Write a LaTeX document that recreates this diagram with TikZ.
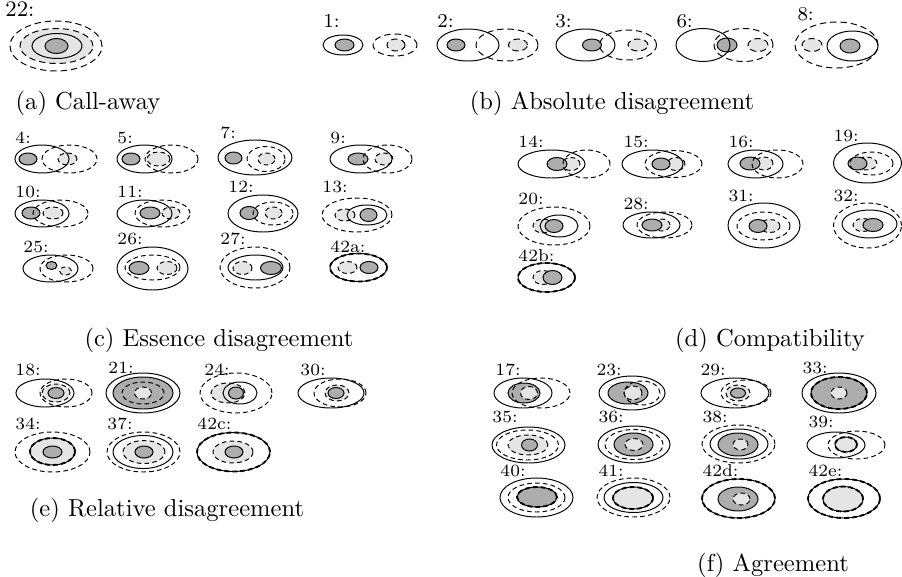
\documentclass[tikz,border=0pt]{standalone}
\definecolor{darkin}{gray}{0.68}
\definecolor{lightin}{gray}{0.9}
\begin{document}
\begin{tikzpicture}[x=0.407pt,y=0.407pt]
\tikzstyle{every node}+=[inner sep=0pt]
\tikzstyle{solidline}=[draw=black]
\tikzstyle{dashline}=[draw=black,dash pattern=on 1.9pt off 1.3pt]
\tikzstyle{darkfill}=[draw=black,fill=darkin]
\tikzstyle{lightfill}=[draw=black,dash pattern=on 1.9pt off 1.3pt,fill=lightin]
\tikzstyle{mixline}=[draw=black,postaction={draw=black,line width=0.75pt,dash pattern=on 1.9pt off 1.3pt}]
\tikzstyle{longdash}=[draw=black,dash pattern=on 2.6pt off 1.6pt]
\tikzstyle{tag}=[anchor=south west,font=\scriptsize]
\tikzstyle{bigtag}=[anchor=south west,font=\footnotesize]
\useasboundingbox (0,0) rectangle (902,-577);
\draw[lightfill,longdash] (56.5,-46) ellipse (36.5 and 17.5);
\draw[darkfill] (56.5,-46) ellipse (11.5 and 7.5);
\draw[longdash] (56,-46) ellipse (46 and 25);
\draw[solidline] (57,-46) ellipse (25 and 12.5);
\node[bigtag,font=\small] (l22) at (5,-17) {22:};
\draw[lightfill,longdash] (396,-45) ellipse (9 and 6);
\draw[darkfill] (344.5,-45) ellipse (9.5 and 6);
\draw[solidline] (343,-45) ellipse (20 and 10);
\draw[longdash] (395,-45) ellipse (22 and 11);
\node[bigtag] (l1) at (323,-28) {1:};
\draw[lightfill,longdash] (518,-45) ellipse (9.5 and 6);
\draw[darkfill] (456,-45) ellipse (9 and 6);
\draw[solidline] (468,-45) ellipse (31 and 16);
\draw[longdash] (507,-45) ellipse (31 and 16);
\node[bigtag] (l2) at (437,-28) {2:};
\draw[lightfill,longdash] (638,-45) ellipse (10 and 6);
\draw[darkfill] (592,-45) ellipse (9.5 and 6);
\draw[solidline] (585.5,-45) ellipse (29.5 and 16);
\draw[longdash] (628,-45) ellipse (28.5 and 15);
\node[bigtag] (l3) at (555,-28) {3:};
\draw[lightfill,longdash] (758,-45) ellipse (10 and 6.5);
\draw[darkfill] (727,-45) ellipse (10 and 7);
\draw[solidline] (703,-45) ellipse (27 and 16.5);
\draw[longdash] (743.5,-45) ellipse (29.5 and 16.5);
\node[bigtag] (l6) at (676,-28) {6:};
\draw[lightfill,longdash] (812,-45) ellipse (10 and 6.5);
\draw[darkfill] (850,-46) ellipse (10 and 7);
\draw[solidline] (852.5,-46) ellipse (25.5 and 15);
\draw[longdash] (836.5,-45) ellipse (41.5 and 23);
\node[bigtag] (l8) at (797,-21) {8:};
\node (capa) at (88,-103) {(a) Call-away};
\node (capb) at (612,-103) {(b) Absolute disagreement};
\draw[lightfill] (67.5,-159) ellipse (9.5 and 6);
\draw[darkfill] (28,-159) ellipse (9 and 6);
\draw[solidline] (42,-159) ellipse (27 and 14);
\draw[dashline] (69.5,-159) ellipse (27.5 and 14);
\node[tag] (l4) at (15,-144) {4:};
\draw[lightfill] (158.5,-159) ellipse (11.5 and 7);
\draw[darkfill] (131,-159) ellipse (9 and 6);
\draw[solidline] (144.5,-159) ellipse (27.5 and 14);
\draw[dashline] (171.5,-159) ellipse (26.5 and 14);
\node[tag] (l5) at (117,-144) {5:};
\draw[lightfill] (266.5,-159) ellipse (8.5 and 6);
\draw[darkfill] (233.5,-158) ellipse (8.5 and 6);
\draw[solidline] (255,-157.5) ellipse (37 and 17.5);
\draw[dashline] (266,-159) ellipse (19 and 12.5);
\node[tag] (l7) at (220,-139) {7:};
\draw[lightfill] (384,-159) ellipse (9 and 6);
\draw[darkfill] (358,-159) ellipse (10 and 6);
\draw[solidline] (361,-159) ellipse (31 and 14);
\draw[dashline] (387.5,-159) ellipse (24.5 and 14);
\node[tag] (l9) at (330,-144) {9:};
\draw[lightfill] (53,-213) ellipse (10 and 6);
\draw[darkfill] (31,-213) ellipse (9 and 6);
\draw[solidline] (42,-213.5) ellipse (27 and 13.5);
\draw[dashline] (60.5,-213.5) ellipse (27.5 and 13.5);
\node[tag] (l10) at (15,-198) {10:};
\draw[lightfill] (171,-213) ellipse (9 and 6);
\draw[darkfill] (150,-213) ellipse (10 and 6);
\draw[solidline] (144.5,-213.5) ellipse (27.5 and 13.5);
\draw[dashline] (162.5,-213.5) ellipse (27.5 and 13.5);
\node[tag] (l11) at (117,-198) {11:};
\draw[lightfill] (273.5,-213) ellipse (8.5 and 6);
\draw[darkfill] (249,-213) ellipse (9 and 6.5);
\draw[solidline] (263,-213.5) ellipse (35 and 18.5);
\draw[dashline] (273,-213.5) ellipse (20 and 11.5);
\node[tag] (l12) at (228,-193) {12:};
\draw[lightfill] (345,-215) ellipse (10 and 6);
\draw[darkfill] (368.5,-215) ellipse (8.5 and 6.5);
\draw[dashline] (357,-215) ellipse (35 and 17);
\draw[solidline] (367,-215) ellipse (20 and 10);
\node[tag] (l13) at (322,-193) {13:};
\draw[lightfill] (65.5,-271) ellipse (6 and 4);
\draw[darkfill] (51.5,-265.5) ellipse (5.5 and 4);
\draw[solidline] (50.5,-268.5) ellipse (27.5 and 13.5);
\draw[dashline] (66.5,-268.5) ellipse (26.5 and 13.5);
\node[tag] (l25) at (23,-253) {25:};
\draw[lightfill] (167,-268) ellipse (10 and 6.5);
\draw[darkfill] (139,-268) ellipse (10 and 6.5);
\draw[solidline] (152.5,-268.5) ellipse (35.5 and 21.5);
\draw[dashline] (152.5,-267.5) ellipse (27.5 and 12.5);
\node[tag] (l26) at (117,-245) {26:};
\draw[lightfill] (242.5,-268) ellipse (9.5 and 6.5);
\draw[darkfill] (271,-268) ellipse (10.5 and 6.5);
\draw[dashline] (255,-267.5) ellipse (35 and 20.5);
\draw[solidline] (255.5,-267.5) ellipse (27.5 and 12.5);
\node[tag] (l27) at (220,-245) {27:};
\draw[lightfill] (347.5,-267.5) ellipse (9.5 and 6);
\draw[darkfill] (369,-267.5) ellipse (9 and 6);
\draw[mixline] (358.5,-267.5) ellipse (28.5 and 14);
\node[tag] (l42a) at (330,-253) {42a:};
\node (capc) at (219,-340) {(c) Essence disagreement};
\draw[lightfill] (571,-164) ellipse (9 and 6.5);
\draw[darkfill] (557,-164) ellipse (10 and 6.5);
\draw[solidline] (551.5,-164) ellipse (33.5 and 14);
\draw[dashline] (586.5,-164) ellipse (23.5 and 14);
\node[tag] (l14) at (518,-148) {14:};
\draw[lightfill] (676,-164) ellipse (9 and 6.5);
\draw[darkfill] (661,-164) ellipse (9 and 6);
\draw[solidline] (652.5,-164) ellipse (30.5 and 14);
\draw[dashline] (673.5,-164) ellipse (28.5 and 13.5);
\node[tag] (l15) at (623,-148) {15:};
\draw[lightfill] (764,-163.5) ellipse (9 and 6.5);
\draw[darkfill] (750,-163.5) ellipse (10 and 6.5);
\draw[solidline] (755.5,-164) ellipse (27.5 and 14);
\draw[dashline] (777.5,-164) ellipse (25.5 and 14);
\node[tag] (l16) at (728,-148) {16:};
\draw[lightfill] (866,-163.5) ellipse (11 and 6.5);
\draw[darkfill] (857.5,-163.5) ellipse (9.5 and 6.5);
\draw[solidline] (867.5,-163) ellipse (34 and 20);
\draw[dashline] (871.5,-163.5) ellipse (21.5 and 11.5);
\node[tag] (l19) at (833,-142) {19:};
\draw[lightfill] (543,-226) ellipse (10 and 7);
\draw[darkfill] (554,-226) ellipse (9 and 6.5);
\draw[dashline] (554,-226) ellipse (36 and 19);
\draw[solidline] (559,-226) ellipse (19 and 11);
\node[tag] (l20) at (518,-205) {20:};
\draw[lightfill] (661.5,-225) ellipse (8.5 and 6);
\draw[darkfill] (652,-225) ellipse (10 and 6);
\draw[solidline] (651.5,-225) ellipse (28.5 and 13);
\draw[dashline] (664.5,-225) ellipse (27.5 and 13);
\node[tag] (l28) at (623,-210) {28:};
\draw[lightfill] (770,-226) ellipse (10 and 6.5);
\draw[darkfill] (758,-226) ellipse (9 and 6.5);
\draw[solidline] (764,-225.5) ellipse (36 and 22.5);
\draw[dashline] (763.5,-226) ellipse (26.5 and 14);
\node[tag] (l31) at (728,-202) {31:};
\draw[lightfill] (863,-225) ellipse (10 and 6.5);
\draw[darkfill] (873,-225) ellipse (10 and 6.5);
\draw[dashline] (867.5,-225.5) ellipse (34 and 22.5);
\draw[solidline] (869.5,-224) ellipse (27.5 and 14);
\node[tag] (l32) at (833,-202) {32:};
\draw[lightfill] (543,-277.5) ellipse (10 and 7);
\draw[darkfill] (552.5,-277.5) ellipse (9.5 and 7);
\draw[mixline] (546.5,-277.5) ellipse (28.5 and 14.5);
\node[tag] (l42b) at (518,-262) {42b:};
\node (capd) at (770,-340) {(d) Compatibility};
\draw[lightfill] (56,-393) ellipse (14 and 9);
\draw[darkfill] (56,-393) ellipse (8 and 5.5);
\draw[solidline] (45,-393) ellipse (29 and 14);
\draw[dashline] (66,-393) ellipse (26 and 14);
\node[tag] (l18) at (15,-376) {18:};
\draw[darkfill] (143,-393) ellipse (30 and 16);
\draw[lightfill] (143,-393) ellipse (8.5 and 6);
\draw[solidline] (143,-393) ellipse (37 and 20);
\draw[dashline] (143,-393) ellipse (21 and 11);
\node[tag] (l21) at (108,-374) {21:};
\draw[lightfill] (228,-393) ellipse (17 and 10);
\draw[darkfill] (236,-393) ellipse (7.5 and 6);
\draw[dashline] (236,-393) ellipse (36 and 20);
\draw[solidline] (240,-393) ellipse (17 and 11);
\node[tag] (l24) at (204,-376) {24:};
\draw[lightfill] (337,-393) ellipse (12 and 8);
\draw[darkfill] (336,-393) ellipse (8 and 5.5);
\draw[solidline] (331,-393) ellipse (33 and 15);
\draw[dashline] (340,-393) ellipse (26 and 14);
\node[tag] (l30) at (300,-376) {30:};
\draw[mixline,fill=lightin] (52.5,-451.5) ellipse (22.5 and 13.5);
\draw[darkfill] (52.5,-452) ellipse (9.5 and 6);
\draw[dashline] (52.5,-452) ellipse (37.5 and 20);
\node[tag] (l34) at (15,-430) {34:};
\draw[lightfill] (144,-452) ellipse (21 and 11.5);
\draw[darkfill] (144,-452) ellipse (9 and 6);
\draw[dashline] (143.5,-452) ellipse (36.5 and 20);
\draw[solidline] (143,-452) ellipse (30 and 16.5);
\node[tag] (l37) at (107,-430) {37:};
\draw[lightfill] (233,-452) ellipse (20 and 11);
\draw[darkfill] (234,-452) ellipse (9 and 6);
\draw[mixline] (233.5,-452) ellipse (36.5 and 19.5);
\node[tag] (l42c) at (197,-430) {42c:};
\node (cape) at (167,-510) {(e) Relative disagreement};
\draw[darkfill] (524,-393) ellipse (16 and 10);
\draw[lightfill] (529,-393) ellipse (8.5 and 6.5);
\draw[solidline] (523,-393) ellipse (29 and 15);
\draw[dashline] (541,-393) ellipse (29 and 15);
\node[tag] (l17) at (495,-376) {17:};
\draw[darkfill] (628,-393) ellipse (20 and 11);
\draw[lightfill] (633,-393) ellipse (9 and 7);
\draw[solidline] (632,-393) ellipse (33 and 17);
\draw[dashline] (642,-393) ellipse (18 and 12);
\node[tag] (l23) at (596,-376) {23:};
\draw[lightfill] (738,-393) ellipse (12 and 8);
\draw[darkfill] (738,-393) ellipse (7.5 and 5);
\draw[solidline] (735,-393) ellipse (34 and 15);
\draw[dashline] (746,-393) ellipse (25 and 13);
\node[tag] (l29) at (700,-376) {29:};
\draw[mixline,fill=darkin] (839,-393) ellipse (28 and 16);
\draw[lightfill] (839,-393) ellipse (8 and 6);
\draw[solidline] (839,-393) ellipse (37 and 20);
\node[tag] (l33) at (802,-374) {33:};
\draw[lightfill] (528,-445) ellipse (20 and 10);
\draw[darkfill] (529.5,-445) ellipse (8 and 6);
\draw[solidline] (528.5,-445) ellipse (36.5 and 18);
\draw[dashline] (527.5,-445) ellipse (31 and 15);
\node[tag] (l35) at (492,-423) {35:};
\draw[darkfill] (633.5,-444.5) ellipse (19.5 and 11.5);
\draw[lightfill] (634,-444.5) ellipse (9 and 6);
\draw[solidline] (634,-444.5) ellipse (36 and 18.5);
\draw[dashline] (634,-444.5) ellipse (29 and 15);
\node[tag] (l36) at (598,-423) {36:};
\draw[darkfill] (738,-444.5) ellipse (20 and 11.5);
\draw[lightfill] (740.5,-444.5) ellipse (7.5 and 5.5);
\draw[dashline] (738.5,-444) ellipse (36.5 and 19);
\draw[solidline] (739,-444) ellipse (29 and 15);
\node[tag] (l38) at (702,-423) {38:};
\draw[mixline,fill=lightin] (846,-444.5) ellipse (11 and 7.5);
\draw[solidline] (836,-445) ellipse (29 and 13);
\draw[dashline] (856.5,-445) ellipse (28.5 and 14);
\node[tag] (l39) at (808,-428) {39:};
\draw[mixline,fill=darkin] (537,-497) ellipse (20 and 10);
\draw[solidline] (536.5,-497.5) ellipse (36.5 and 19.5);
\draw[dashline] (536.5,-497.5) ellipse (28.5 and 14.5);
\node[tag] (l40) at (500,-477) {40:};
\draw[mixline,fill=lightin] (633,-498) ellipse (20 and 11);
\draw[dashline] (633.5,-497.5) ellipse (36.5 and 19.5);
\draw[solidline] (633.5,-497.5) ellipse (29.5 and 15);
\node[tag] (l41) at (598,-477) {41:};
\draw[darkfill] (738,-499) ellipse (20 and 12);
\draw[lightfill] (741.5,-499) ellipse (8.5 and 6);
\draw[mixline] (738.5,-498.5) ellipse (36.5 and 19.5);
\node[tag] (l42d) at (702,-477) {42d:};
\draw[mixline,fill=lightin] (843,-499) ellipse (20 and 12.5);
\draw[mixline] (844,-498.5) ellipse (36 and 19.5);
\node[tag] (l42e) at (808,-477) {42e:};
\node (capf) at (773,-565) {(f) Agreement};
\end{tikzpicture}
\end{document}
